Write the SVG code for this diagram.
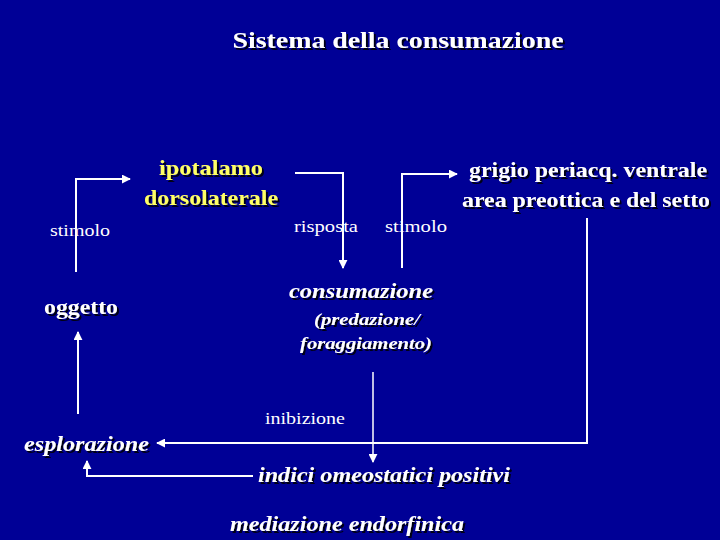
<svg xmlns="http://www.w3.org/2000/svg" width="720" height="540" viewBox="0 0 720 540">
<defs>
<filter id="sh" x="-10%" y="-30%" width="130%" height="160%"><feDropShadow dx="2" dy="2" stdDeviation="0.5" flood-color="#000000" flood-opacity="0.85"/></filter>
<marker id="ah" viewBox="0 0 10 10" refX="9" refY="5" markerWidth="4.5" markerHeight="4.5" orient="auto" markerUnits="strokeWidth"><path d="M0,0 L10,5 L0,10 z" fill="#ffffff"/></marker>
<marker id="ah2" viewBox="0 0 10 10" refX="9" refY="5" markerWidth="6" markerHeight="6" orient="auto" markerUnits="strokeWidth"><path d="M0,0 L10,5 L0,10 z" fill="#ffffff"/></marker>
</defs>
<style>
text{fill:#ffffff}
.b{font-weight:bold;filter:url(#sh)}
.bi{font-weight:bold;font-style:italic;filter:url(#sh)}
.y{fill:#ffff66}
.r{font-size:17px}
.c{stroke:#ffffff;fill:none;stroke-width:2}
.t{stroke:#ffffff;fill:none;stroke-width:1.5}
</style>
<rect width="720" height="540" fill="#000096"/>
<g font-family="Liberation Serif, Times New Roman, serif">
<g id="title"><text class="b" x="398" y="48" font-size="24" text-anchor="middle" textLength="331" lengthAdjust="spacingAndGlyphs">Sistema della consumazione</text></g>
<g id="ipotalamo">
<text class="b y" x="211" y="175" font-size="22" text-anchor="middle" textLength="104" lengthAdjust="spacingAndGlyphs">ipotalamo</text>
<text class="b y" x="211" y="205" font-size="22" text-anchor="middle" textLength="134" lengthAdjust="spacingAndGlyphs">dorsolaterale</text>
</g>
<g id="grigio">
<text class="b" x="707" y="177" font-size="22" text-anchor="end" textLength="238" lengthAdjust="spacingAndGlyphs">grigio periacq. ventrale</text>
<text class="b" x="710" y="207" font-size="22" text-anchor="end" textLength="248" lengthAdjust="spacingAndGlyphs">area preottica e del setto</text>
</g>
<g id="stimolo1"><text class="r" x="50" y="236" textLength="60" lengthAdjust="spacingAndGlyphs">stimolo</text></g>
<g id="risposta"><text class="r" x="294" y="232" textLength="64" lengthAdjust="spacingAndGlyphs">risposta</text></g>
<g id="stimolo2"><text class="r" x="385" y="232" textLength="62" lengthAdjust="spacingAndGlyphs">stimolo</text></g>
<g id="oggetto"><text class="b" x="44" y="314" font-size="21" textLength="74" lengthAdjust="spacingAndGlyphs">oggetto</text></g>
<g id="consumazione">
<text class="bi" x="289" y="298" font-size="21" textLength="144" lengthAdjust="spacingAndGlyphs">consumazione</text>
<text class="bi" x="314" y="325" font-size="17" textLength="106" lengthAdjust="spacingAndGlyphs">(predazione/</text>
<text class="bi" x="300" y="349" font-size="17" textLength="132" lengthAdjust="spacingAndGlyphs">foraggiamento)</text>
</g>
<g id="inibizione"><text class="r" x="265" y="424" textLength="80" lengthAdjust="spacingAndGlyphs">inibizione</text></g>
<g id="esplorazione"><text class="bi" x="24" y="451" font-size="21" textLength="125" lengthAdjust="spacingAndGlyphs">esplorazione</text></g>
<g id="indici"><text class="bi" x="258" y="482" font-size="22" textLength="252" lengthAdjust="spacingAndGlyphs">indici omeostatici positivi</text></g>
<g id="mediazione"><text class="bi" x="230" y="531" font-size="22" textLength="234" lengthAdjust="spacingAndGlyphs">mediazione endorfinica</text></g>
</g>
<g id="connectors">
<path class="c" d="M76,272 V179 H130" marker-end="url(#ah)"/>
<path class="c" d="M295,173 H343 V268" marker-end="url(#ah)"/>
<path class="c" d="M402,268 V174 H457" marker-end="url(#ah)"/>
<path class="c" d="M587,218 V443 H157" marker-end="url(#ah)"/>
<path class="t" d="M373,372 V462" marker-end="url(#ah2)"/>
<path class="c" d="M253,476 H87 V461" marker-end="url(#ah)"/>
<path class="c" d="M78,414 V332" marker-end="url(#ah)"/>
</g>
</svg>
